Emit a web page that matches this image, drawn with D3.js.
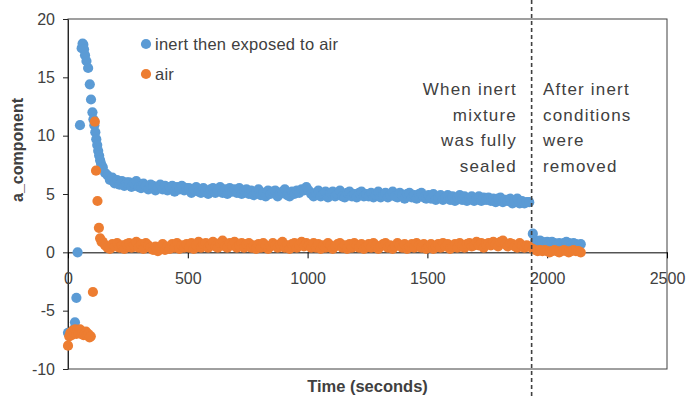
<!DOCTYPE html>
<html>
<head>
<meta charset="utf-8">
<script src="https://cdn.jsdelivr.net/npm/d3@7"></script>
<style>
  body { margin: 0; background: #fff; }
  text { font-family: "Liberation Sans", Arial, sans-serif; fill: #404040; }
</style>
</head>
<body>
<div id="chart"></div>
<script>
// series names
const seriesNames = ["inert then exposed to air", "air"];

// start-up points (seconds, value)
const blueEarlyT = [0, 6, 12, 18, 24, 29, 35, 40, 50, 57, 61, 64, 67, 71, 77, 84, 91, 96, 102, 106, 110, 114, 118, 122, 126, 130, 134, 138];
const blueEarlyV = [-6.9, -7.0, -6.9, -6.8, -6.6, -6.0, -3.9, 0.0, 10.9, 17.5, 17.9, 17.8, 17.4, 16.9, 16.4, 15.8, 14.4, 13.1, 12.0, 11.4, 10.9, 10.3, 9.7, 9.2, 8.7, 8.3, 7.9, 7.6];
const orangeEarlyT = [0, 5, 10, 15, 20, 25, 30, 35, 40, 45, 50, 55, 60, 65, 70, 75, 80, 85, 90, 95, 104, 112, 117, 123, 129, 134, 140];
const orangeEarlyV = [-8.0, -7.2, -6.9, -7.1, -6.7, -6.9, -6.6, -7.0, -6.7, -6.9, -6.6, -7.0, -6.8, -7.1, -6.9, -6.8, -7.1, -7.0, -7.3, -7.2, -3.4, 11.2, 7.0, 4.4, 2.1, 1.2, 0.9];

// sealed phase, one reading every 10 s from 145 s
const sealedStart = 145, sampleStep = 10;
const blueSealed = [
  7.3, 6.8, 6.6, 6.2, 6.4, 5.9, 6.2, 5.8, 6.1, 5.7, 6.0,
  6.0, 5.6, 5.9, 6.1, 5.6, 5.5, 5.9, 5.7, 5.4, 5.8, 5.7, 5.3, 5.5, 5.8, 5.4, 5.7, 5.3, 5.6, 5.7, 5.2, 5.6, 5.4, 5.7, 5.3, 5.5,
  5.5, 5.1, 5.4, 5.6, 5.2, 5.1, 5.5, 5.3, 5.0, 5.4, 5.5, 5.1, 5.3, 5.6, 5.1, 5.4, 5.0, 5.5, 5.2, 5.4, 5.1, 5.5, 5.0, 5.3, 5.4,
  5.0, 5.3, 4.9, 5.2, 5.4, 4.9, 5.1, 4.8, 5.3, 5.0, 5.2, 5.3, 4.8, 5.0, 5.2, 5.4, 4.9, 4.8, 5.2, 5.0, 5.3, 5.1, 5.4, 5.3, 5.6,
  5.3, 5.0, 4.8, 5.1, 5.3, 4.8, 5.0, 5.2, 4.7, 5.1, 5.2, 4.8, 5.0, 5.3, 4.8, 4.7, 5.1, 5.2, 4.8, 5.0, 4.7, 5.1, 5.2, 4.8, 5.0,
  4.8, 5.1, 4.7, 4.9, 5.2, 4.7, 4.9, 5.1, 4.7, 4.9, 5.2, 4.8, 4.7, 5.1, 4.9, 4.6, 5.0, 5.1, 4.7, 4.9, 4.6, 5.0, 5.1, 4.7, 4.6,
  4.9, 4.6, 5.0, 4.5, 4.7, 4.9, 4.5, 4.7, 4.9, 4.5, 4.8, 4.4, 4.7, 4.9, 4.5, 4.8, 4.4, 4.6, 4.8, 4.4, 4.6, 4.8, 4.4, 4.7, 4.5,
  4.7, 4.4, 4.6, 4.3, 4.6, 4.7, 4.3, 4.5, 4.4, 4.6, 4.2, 4.4, 4.6, 4.2, 4.4, 4.2, 4.3, 4.3
];
const orangeSealed = [
  0.9, 0.6, 0.4, 0.3, 0.7, 0.5, 0.8, 0.4, 0.6, 0.3, 0.7,
  0.8, 0.4, 0.6, 0.9, 0.4, 0.7, 0.3, 0.8, 0.6, 0.4, 0.2, 0.5, 0.1, 0.4, 0.7, 0.2, 0.5, 0.3, 0.7, 0.4, 0.8, 0.3, 0.6, 0.4, 0.7,
  0.4, 0.8, 0.3, 0.6, 0.9, 0.4, 0.7, 0.8, 0.4, 0.6, 0.9, 0.5, 0.4, 0.8, 1.0, 0.5, 0.4, 0.8, 0.6, 0.9, 0.4, 0.6, 0.8, 0.4, 0.7,
  0.8, 0.4, 0.6, 0.3, 0.7, 0.4, 0.8, 0.6, 0.3, 0.5, 0.8, 0.6, 0.4, 0.7, 0.9, 0.4, 0.6, 0.3, 0.7, 0.8, 0.4, 0.6, 0.9, 0.5, 0.8,
  0.6, 0.4, 0.8, 0.4, 0.7, 0.3, 0.6, 0.4, 0.8, 0.6, 0.3, 0.5, 0.7, 0.8, 0.4, 0.6, 0.3, 0.7, 0.4, 0.8, 0.6, 0.4, 0.7, 0.3, 0.5,
  0.7, 0.4, 0.8, 0.6, 0.3, 0.5, 0.7, 0.8, 0.4, 0.6, 0.3, 0.5, 0.8, 0.6, 0.4, 0.7, 0.3, 0.5, 0.7, 0.4, 0.8, 0.6, 0.4, 0.7, 0.3,
  0.5, 0.7, 0.3, 0.5, 0.7, 0.4, 0.8, 0.5, 0.7, 0.3, 0.5, 0.7, 0.4, 0.8, 0.6, 0.4, 0.7, 0.8, 0.5, 0.6, 0.9, 0.6, 0.8, 0.4, 0.7,
  0.8, 0.6, 0.9, 0.7, 0.5, 0.9, 1.0, 0.7, 0.5, 0.8, 0.7, 0.5, 0.4, 0.8, 0.6, 0.4, 0.6, 0.5
];

// after inert conditions removed, every 10 s from 1940 s
const removedStart = 1940;
const blueRemoved = [1.6, 1.0, 0.9, 1.0, 0.9, 0.8, 0.9, 0.8, 0.9, 0.8, 0.7, 0.8, 0.7, 0.8, 0.9, 0.8, 0.7, 0.8, 0.7, 0.6, 0.7];
const orangeRemoved = [0.3, 0.2, 0.1, 0.2, 0.1, 0.2, 0.1, 0.0, 0.1, 0.2, 0.1, 0.0, 0.1, 0.2, 0.1, 0.0, 0.1, 0.2, 0.1, 0.1, 0.0];

const sealedAt = 1935;
const xTicks = [0, 500, 1000, 1500, 2000, 2500];
const yTicks = [-10, -5, 0, 5, 10, 15, 20];
const noteLeft = ["When inert", "mixture", "was fully", "sealed"];
const noteRight = ["After inert", "conditions", "were", "removed"];

function buildSeries(earlyT, earlyV, sealed, removed) {
  const pts = earlyT.map((t, i) => ({ t: t, v: earlyV[i] }));
  sealed.forEach((v, i) => pts.push({ t: sealedStart + i * sampleStep, v: v }));
  removed.forEach((v, i) => pts.push({ t: removedStart + i * sampleStep, v: v }));
  return pts;
}
const blue = buildSeries(blueEarlyT, blueEarlyV, blueSealed, blueRemoved);
const orange = buildSeries(orangeEarlyT, orangeEarlyV, orangeSealed, orangeRemoved);

const W = 688, H = 397;
const margin = { top: 19, right: 21, bottom: 28, left: 68 };
const width = W - margin.left - margin.right;
const height = H - margin.top - margin.bottom;

const svg = d3.select("#chart").append("svg")
  .attr("width", W).attr("height", H);
const g = svg.append("g")
  .attr("transform", "translate(" + margin.left + "," + margin.top + ")");

const x = d3.scaleLinear().domain([0, 2500]).range([0, width]);
const y = d3.scaleLinear().domain([-10, 20]).range([height, 0]);

// plot border
g.append("rect")
  .attr("width", width).attr("height", height)
  .attr("fill", "none").attr("stroke", "#404040").attr("stroke-width", 1);

// y axis
const yAxis = g.append("g")
  .call(d3.axisLeft(y).tickValues(yTicks).tickFormat(d => String(d))
    .tickSize(5).tickPadding(8).tickSizeOuter(0));
yAxis.select(".domain").attr("stroke", "#262626");
yAxis.selectAll(".tick line").attr("stroke", "#262626");
yAxis.selectAll("text").style("font-size", "16px").attr("fill", "#404040");

// x axis across zero
const xAxis = g.append("g")
  .attr("transform", "translate(0," + y(0) + ")")
  .call(d3.axisBottom(x).tickValues(xTicks).tickFormat(d => String(d))
    .tickSize(6).tickPadding(14).tickSizeOuter(0));
xAxis.select(".domain").attr("stroke", "#000");
xAxis.selectAll(".tick line").attr("stroke", "#000");
xAxis.selectAll("text").style("font-size", "16px").attr("fill", "#404040");

// points
function drawDots(data, color) {
  g.append("g").selectAll("circle")
    .data(data).join("circle")
    .attr("cx", d => x(d.t))
    .attr("cy", d => y(d.v))
    .attr("r", 5.1)
    .attr("fill", color);
}
drawDots(blue, "#5B9BD5");
drawDots(orange, "#ED7D31");

// dashed marker where inert conditions ended
svg.append("line")
  .attr("x1", margin.left + x(sealedAt)).attr("x2", margin.left + x(sealedAt))
  .attr("y1", 0).attr("y2", H)
  .attr("stroke", "#404040").attr("stroke-width", 1.6)
  .attr("stroke-dasharray", "4,3");

// notes
const noteSize = 17;
noteLeft.forEach((s, i) => {
  svg.append("text")
    .attr("x", 517).attr("y", 95 + i * 25.5)
    .attr("text-anchor", "end")
    .style("font-size", noteSize + "px")
    .style("letter-spacing", "1.2px")
    .text(s);
});
noteRight.forEach((s, i) => {
  svg.append("text")
    .attr("x", 543).attr("y", 95 + i * 25.5)
    .style("font-size", noteSize + "px")
    .style("letter-spacing", "1.2px")
    .text(s);
});

// legend
const legend = svg.append("g");
[["#5B9BD5", 44], ["#ED7D31", 74]].forEach((d, i) => {
  legend.append("circle").attr("cx", 146).attr("cy", d[1]).attr("r", 5.1).attr("fill", d[0]);
  legend.append("text").attr("x", 155).attr("y", d[1] + 6)
    .style("font-size", "16.5px")
    .style("letter-spacing", "0.25px")
    .text(seriesNames[i]);
});

// axis titles
svg.append("text")
  .attr("x", margin.left + width / 2).attr("y", 392)
  .attr("text-anchor", "middle")
  .style("font-size", "16.5px").style("font-weight", "bold")
  .text("Time (seconds)");
svg.append("text")
  .attr("transform", "translate(23,150) rotate(-90)")
  .attr("text-anchor", "middle")
  .style("font-size", "16px").style("font-weight", "bold")
  .text("a_component");
</script>
</body>
</html>
